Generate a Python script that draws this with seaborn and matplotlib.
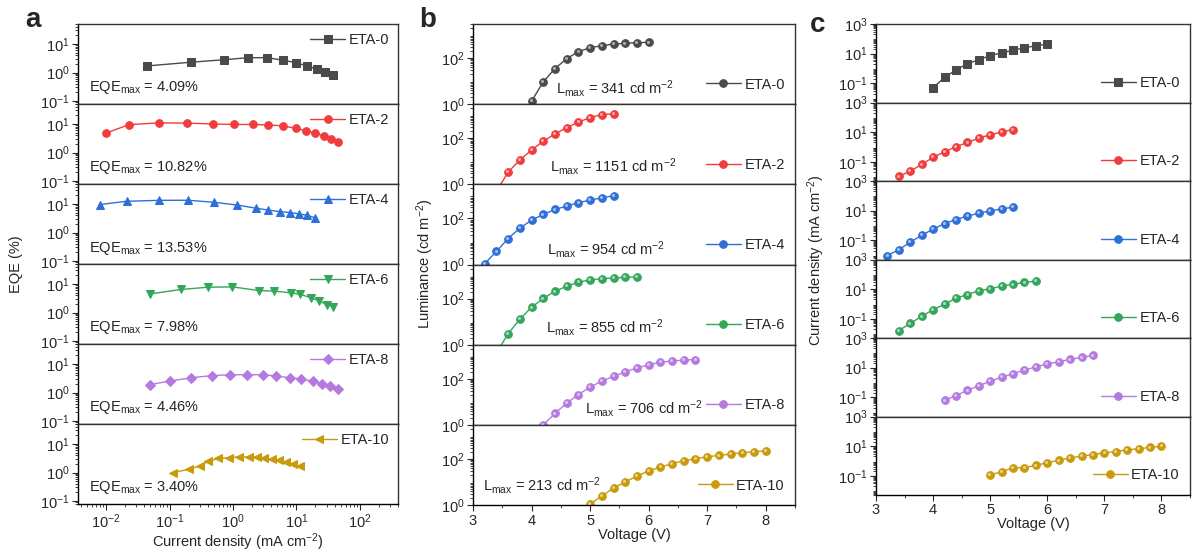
import matplotlib
matplotlib.use("Agg")
import matplotlib.pyplot as plt
import matplotlib.ticker as mticker
import matplotlib.transforms as mtransforms
import seaborn as sns

# series names, colours, markers
names = ['ETA-0', 'ETA-2', 'ETA-4', 'ETA-6', 'ETA-8', 'ETA-10']
colors = ['#4a4a4a', '#f03c3c', '#2f6fd8', '#33a65a', '#b57ae0', '#c99a0a']
eqe_markers = ['s', 'o', '^', 'v', 'D', '<']
jv_markers = ['s', 'o', 'o', 'o', 'o', 'o']
eqe_max = ['4.09', '10.82', '13.53', '7.98', '4.46', '3.40']
lum_max = ['341', '1151', '954', '855', '706', '213']

# panel a: EQE vs current density
eqe_j = [
    [0.044, 0.22, 0.72, 1.7, 3.4, 6.2, 9.9, 14.8, 21, 28, 38],
    [0.01, 0.023, 0.068, 0.19, 0.48, 1.04, 2.05, 3.6, 6.2, 9.8, 14.2, 20, 27, 35.6, 46],
    [0.0079, 0.021, 0.069, 0.196, 0.51, 1.16, 2.3, 3.6, 5.5, 7.9, 11, 14.8, 19.5],
    [0.05, 0.15, 0.41, 0.98, 2.55, 4.5, 8.2, 11.2, 17, 23, 30, 38],
    [0.049, 0.1, 0.22, 0.46, 0.91, 1.65, 2.95, 4.8, 7.9, 12, 18, 25, 34, 46],
    [0.115, 0.2, 0.30, 0.41, 0.59, 0.87, 1.26, 1.77, 2.4, 3.1, 4.1, 5.4, 6.9, 8.9, 11.4],
]
eqe_val = [
    [1.7, 2.3, 2.8, 3.3, 3.3, 2.7, 2.2, 1.7, 1.3, 1.07, 0.83],
    [4.8, 9.5, 10.9, 10.7, 10.0, 9.6, 9.6, 9.2, 8.6, 7.0, 5.8, 4.7, 3.8, 2.96, 2.25],
    [9.5, 12.4, 13.4, 13.5, 11.4, 9.2, 7.1, 6.1, 5.4, 5.0, 4.5, 4.0, 3.3],
    [4.5, 6.4, 7.7, 7.9, 5.9, 5.6, 4.9, 4.4, 3.3, 2.5, 1.9, 1.6],
    [1.9, 2.5, 3.3, 3.9, 4.2, 4.2, 4.2, 3.8, 3.3, 2.96, 2.5, 2.0, 1.7, 1.34],
    [1.0, 1.3, 1.7, 2.5, 3.1, 3.3, 3.5, 3.5, 3.4, 3.1, 2.9, 2.7, 2.3, 2.0, 1.65],
]

# panel b: luminance vs voltage
lum_v = [
    [3.8, 4.0, 4.2, 4.4, 4.6, 4.8, 5.0, 5.2, 5.4, 5.6, 5.8, 6.0],
    [3.4, 3.6, 3.8, 4.0, 4.2, 4.4, 4.6, 4.8, 5.0, 5.2, 5.4],
    [3.0, 3.2, 3.4, 3.6, 3.8, 4.0, 4.2, 4.4, 4.6, 4.8, 5.0, 5.2, 5.4],
    [3.4, 3.6, 3.8, 4.0, 4.2, 4.4, 4.6, 4.8, 5.0, 5.2, 5.4, 5.6, 5.8],
    [4.0, 4.2, 4.4, 4.6, 4.8, 5.0, 5.2, 5.4, 5.6, 5.8, 6.0, 6.2, 6.4, 6.6, 6.8],
    [4.8, 5.0, 5.2, 5.4, 5.6, 5.8, 6.0, 6.2, 6.4, 6.6, 6.8, 7.0, 7.2, 7.4, 7.6, 7.8, 8.0],
]
lum_val = [
    [0.2, 1.35, 9.3, 35, 94, 189, 281, 345, 405, 436, 466, 480],
    [0.5, 3.4, 11.4, 31, 74, 154, 290, 500, 790, 1070, 1140],
    [0.3, 1.1, 3.7, 13.5, 38, 85, 149, 245, 345, 484, 627, 790, 970],
    [0.45, 3.0, 13, 42, 103, 208, 345, 515, 650, 740, 790, 850, 870],
    [0.25, 1.0, 3.2, 8.8, 21, 44, 80, 130, 200, 300, 405, 525, 600, 650, 690],
    [0.3, 1.14, 2.5, 5.5, 10.3, 18, 31, 45, 63, 85, 103, 126, 144, 165, 189, 208, 230],
]

# panel c: current density vs voltage
jv_v = [
    [4.0, 4.2, 4.4, 4.6, 4.8, 5.0, 5.2, 5.4, 5.6, 5.8, 6.0],
    [3.4, 3.6, 3.8, 4.0, 4.2, 4.4, 4.6, 4.8, 5.0, 5.2, 5.4],
    [3.2, 3.4, 3.6, 3.8, 4.0, 4.2, 4.4, 4.6, 4.8, 5.0, 5.2, 5.4],
    [3.4, 3.6, 3.8, 4.0, 4.2, 4.4, 4.6, 4.8, 5.0, 5.2, 5.4, 5.6, 5.8],
    [4.2, 4.4, 4.6, 4.8, 5.0, 5.2, 5.4, 5.6, 5.8, 6.0, 6.2, 6.4, 6.6, 6.8],
    [5.0, 5.2, 5.4, 5.6, 5.8, 6.0, 6.2, 6.4, 6.6, 6.8, 7.0, 7.2, 7.4, 7.6, 7.8, 8.0],
]
jv_val = [
    [0.05, 0.245, 0.79, 2.05, 3.9, 7.3, 11.1, 17, 24.6, 34, 44],
    [0.0103, 0.023, 0.066, 0.2, 0.47, 1.02, 2.0, 3.9, 6.6, 10, 15],
    [0.0093, 0.023, 0.073, 0.22, 0.55, 1.34, 2.5, 4.3, 6.6, 9.5, 13, 17],
    [0.016, 0.048, 0.145, 0.41, 0.95, 2.4, 4.3, 7.7, 10.5, 16, 21, 28, 35],
    [0.062, 0.13, 0.29, 0.6, 1.2, 2.3, 3.9, 6.9, 11, 18, 24.6, 36, 49, 67],
    [0.11, 0.19, 0.35, 0.35, 0.5, 0.77, 1.1, 1.6, 2.1, 2.7, 3.5, 4.3, 5.6, 6.6, 8.1, 10],
]

sns.set_theme(style="ticks")
plt.rcParams['font.family'] = ['Liberation Sans', 'DejaVu Sans']
plt.rcParams['mathtext.default'] = 'regular'
plt.rcParams['axes.linewidth'] = 1.0

W, H = 1193, 551
fig = plt.figure(figsize=(W / 100, H / 100), dpi=100)

FS = 10.5


def make_axes(left, width, top, step, i):
    return fig.add_axes([left / W, 1 - (top + step * (i + 1)) / H, width / W, step / H])


def style_axes(ax, last):
    ax.tick_params(axis='both', which='major', direction='out', length=4, width=0.8,
                   labelsize=FS, pad=2, right=False, top=False)
    ax.tick_params(axis='both', which='minor', direction='out', length=2, width=0.6,
                   right=False, top=False)
    if not last:
        ax.tick_params(axis='x', which='both', bottom=False, labelbottom=False)
    ax.set_xlabel('')
    ax.set_ylabel('')
    for side, s in ax.spines.items():
        s.set_color('black' if side in ('left', 'bottom') else '#333333')


def add_shine(ax, x, y):
    # small light spot on round markers, like shaded spheres
    tr = mtransforms.offset_copy(ax.transData, fig=fig, x=-0.8, y=0.8, units='dots')
    ax.scatter(x, y, s=5, color='white', alpha=0.55, linewidths=0, transform=tr, zorder=5)


# panel a
for i in range(6):
    ax = make_axes(78, 320, 24, 80, i)
    sns.lineplot(x=eqe_j[i], y=eqe_val[i], ax=ax, color=colors[i], marker=eqe_markers[i],
                 markersize=5.5, markeredgecolor=colors[i], linewidth=1.0,
                 estimator=None, sort=False, label=names[i])
    ax.set_xscale('log')
    ax.set_yscale('log')
    ax.set_xlim(0.0036, 400)
    ax.set_ylim(0.079, 50)
    ax.set_yticks([0.1, 1, 10])
    ax.yaxis.set_minor_locator(mticker.LogLocator(base=10, subs=range(2, 10), numticks=20))
    ax.xaxis.set_minor_locator(mticker.LogLocator(base=10, subs=range(2, 10), numticks=20))
    ax.set_xticks([0.01, 0.1, 1, 10, 100])
    style_axes(ax, i == 5)
    ax.legend(loc='upper right', frameon=False, fontsize=FS, handlelength=2.4,
              handletextpad=0.25, borderaxespad=0.2)
    ax.text(0.035, 0.2, 'EQE$_{max}$ = ' + eqe_max[i] + '%', transform=ax.transAxes,
            fontsize=FS, ha='left', va='center')
    if i == 5:
        ax.set_xlabel('Current density (mA cm$^{-2}$)', fontsize=FS, labelpad=0)

# panel b
lum_text_x = [0.258, 0.239, 0.23, 0.227, 0.348, 0.031]
lum_text_y = [0.19, 0.22, 0.19, 0.22, 0.21, 0.24]
for i in range(6):
    ax = make_axes(473, 322, 24, 80.2, i)
    sns.lineplot(x=lum_v[i], y=lum_val[i], ax=ax, color=colors[i], marker='o',
                 markersize=5.5, markeredgecolor=colors[i], linewidth=1.0,
                 estimator=None, sort=False, label=names[i])
    add_shine(ax, lum_v[i], lum_val[i])
    ax.set_yscale('log')
    ax.set_xlim(3, 8.5)
    ax.set_ylim(1, 3000)
    ax.set_yticks([1, 100])
    ax.yaxis.set_minor_locator(mticker.LogLocator(base=10, subs=range(2, 10), numticks=20))
    ax.set_xticks([3, 4, 5, 6, 7, 8])
    ax.xaxis.set_minor_locator(mticker.MultipleLocator(0.5))
    style_axes(ax, i == 5)
    ax.legend(loc='lower right', frameon=False, fontsize=FS, handlelength=2.4,
              handletextpad=0.25, borderaxespad=0.3, bbox_to_anchor=(1.0, 0.03))
    ax.text(lum_text_x[i], lum_text_y[i], 'L$_{max}$ = ' + lum_max[i] + ' cd m$^{-2}$',
            transform=ax.transAxes, fontsize=FS, ha='left', va='center')
    if i == 5:
        ax.set_xlabel('Voltage (V)', fontsize=FS, labelpad=0)

# panel c
for i in range(6):
    ax = make_axes(876, 314, 24, 78.5, i)
    sns.lineplot(x=jv_v[i], y=jv_val[i], ax=ax, color=colors[i], marker=jv_markers[i],
                 markersize=5.5, markeredgecolor=colors[i], linewidth=1.0,
                 estimator=None, sort=False, label=names[i])
    if jv_markers[i] == 'o':
        add_shine(ax, jv_v[i], jv_val[i])
    ax.set_yscale('log')
    ax.set_xlim(3, 8.5)
    ax.set_ylim(0.005, 1000)
    ax.set_yticks([0.1, 10, 1000])
    ax.yaxis.set_minor_locator(mticker.LogLocator(base=10, subs=range(2, 10), numticks=20))
    ax.set_xticks([3, 4, 5, 6, 7, 8])
    ax.xaxis.set_minor_locator(mticker.MultipleLocator(0.5))
    style_axes(ax, i == 5)
    ax.legend(loc='lower right', frameon=False, fontsize=FS, handlelength=2.4,
              handletextpad=0.25, borderaxespad=0.3, bbox_to_anchor=(1.0, 0.03))
    if i == 5:
        ax.set_xlabel('Voltage (V)', fontsize=FS, labelpad=0)

# shared y labels and panel letters
fig.text(16 / W, 1 - 264 / H, 'EQE (%)', rotation=90, ha='center', va='center', fontsize=FS)
fig.text(425 / W, 1 - 264 / H, 'Luminance (cd m$^{-2}$)', rotation=90, ha='center',
         va='center', fontsize=FS)
fig.text(816 / W, 1 - 260 / H, 'Current density (mA cm$^{-2}$)', rotation=90,
         ha='center', va='center', fontsize=FS)
for lab, px, py in [('a', 33, 20), ('b', 428, 20), ('c', 818, 25)]:
    fig.text(px / W, 1 - py / H, lab, ha='center', va='center', fontsize=20,
             fontweight='bold')

fig.savefig('out.png', dpi=100)
